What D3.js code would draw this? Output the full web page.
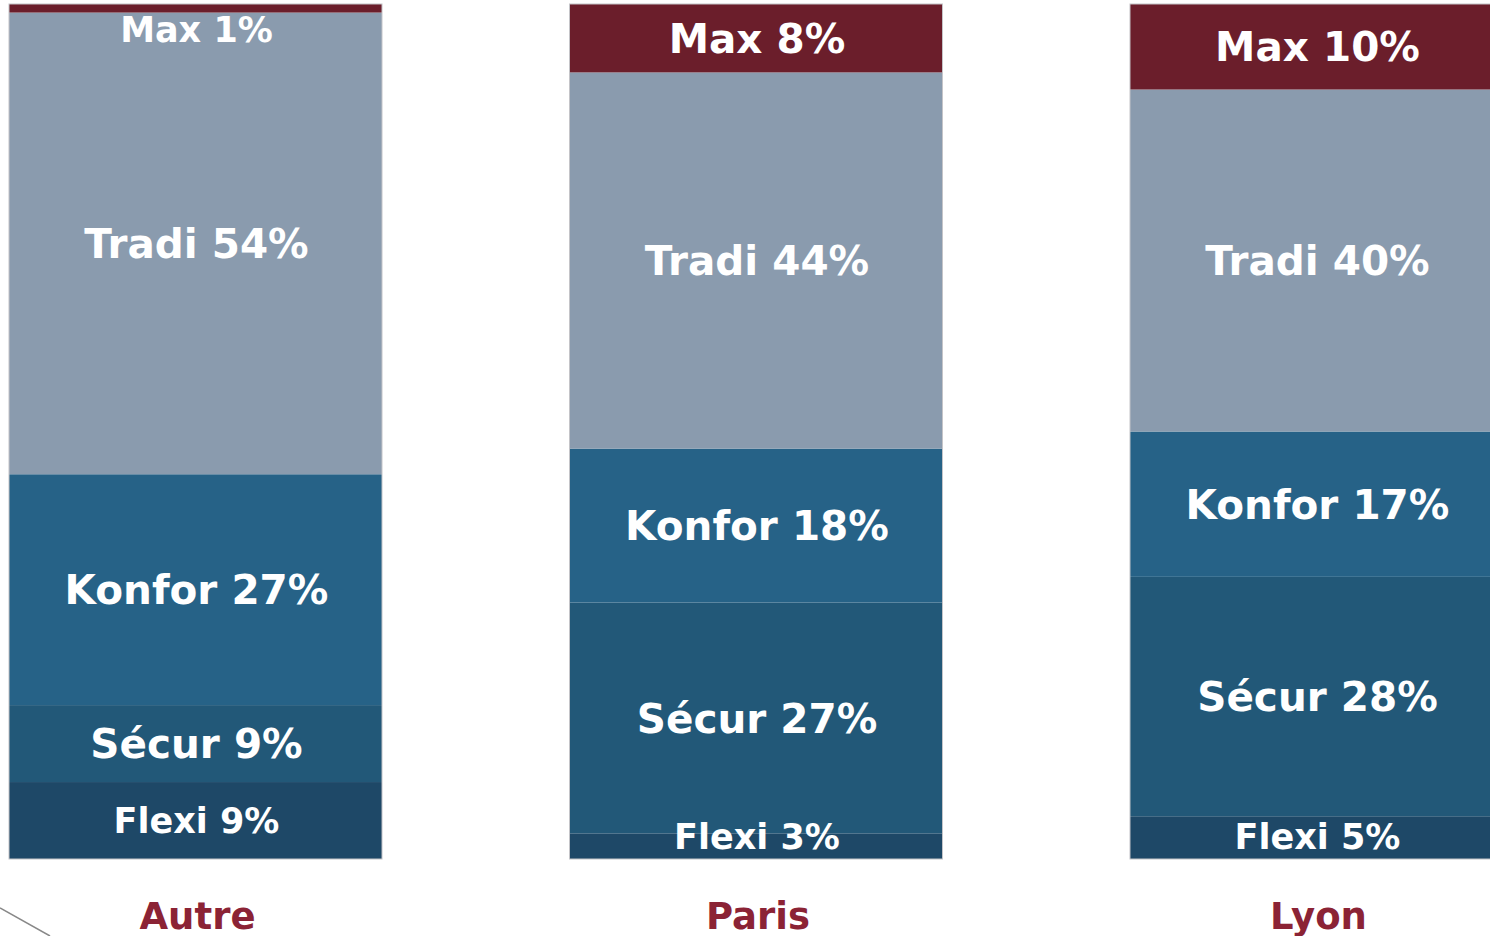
<!DOCTYPE html>
<html>
<head>
<meta charset="utf-8">
<script src="https://cdn.jsdelivr.net/npm/d3@7"></script>
<style>
  body { margin: 0; background: #fff; }
  svg { display: block; }
</style>
</head>
<body>
<svg id="chart"></svg>
<script>
// stacked shares (%) per city, bottom to top
var cities = ["Autre", "Paris", "Lyon"];
var series = ["Flexi", "Sécur", "Konfor", "Tradi", "Max"];
var flexi  = [9, 3, 5];
var secur  = [9, 27, 28];
var konfor = [27, 18, 17];
var tradi  = [54, 44, 40];
var max    = [1, 8, 10];

var colors = {
  "Flexi": "#1e4867",
  "Sécur": "#225878",
  "Konfor": "#266287",
  "Tradi": "#8a9bae",
  "Max": "#6b1e2b"
};

var width = 1490;
var height = 936;
var font = "'DejaVu Sans', Verdana, sans-serif";

var rows = cities.map(function(c, i) {
  return {city: c, "Flexi": flexi[i], "Sécur": secur[i], "Konfor": konfor[i], "Tradi": tradi[i], "Max": max[i]};
});

var stacked = d3.stack().keys(series)(rows);

var svg = d3.select("#chart")
  .attr("width", width)
  .attr("height", height);

var x = d3.scaleBand()
  .domain(cities)
  .range([9, 1503])
  .paddingInner(0.3345)
  .paddingOuter(0);

var y = d3.scaleLinear()
  .domain([0, 100])
  .range([859, 4]);

// little decorative stroke bottom left
svg.append("line")
  .attr("x1", 0).attr("y1", 908)
  .attr("x2", 50).attr("y2", 936)
  .attr("stroke", "#888")
  .attr("stroke-width", 1.5);

var layers = svg.selectAll("g.layer")
  .data(stacked)
  .enter()
  .append("g")
  .attr("class", "layer")
  .attr("fill", function(d) { return colors[d.key]; });

layers.selectAll("rect")
  .data(function(d) { return d; })
  .enter()
  .append("rect")
  .attr("x", function(d) { return x(d.data.city); })
  .attr("y", function(d) { return y(d[1]); })
  .attr("width", x.bandwidth())
  .attr("height", function(d) { return y(d[0]) - y(d[1]); });

// thin outline around each bar
svg.selectAll("rect.outline")
  .data(cities)
  .enter()
  .append("rect")
  .attr("class", "outline")
  .attr("x", function(d) { return x(d); })
  .attr("y", y(100))
  .attr("width", x.bandwidth())
  .attr("height", y(0) - y(100))
  .attr("fill", "none")
  .attr("stroke", "#c4c4c8")
  .attr("stroke-width", 1);

// segment labels, drawn on top of every rect
var labels = svg.append("g").attr("class", "labels");
stacked.forEach(function(layer) {
  labels.selectAll("text.l" + series.indexOf(layer.key))
    .data(layer)
    .enter()
    .append("text")
    .attr("class", "l" + series.indexOf(layer.key))
    .text(function(d) { return layer.key + " " + (d[1] - d[0]) + "%"; })
    .attr("x", function(d) { return x(d.data.city) + x.bandwidth() / 2 + 1; })
    .attr("y", function(d) {
      var mid = (y(d[0]) + y(d[1])) / 2;
      mid = Math.max(mid, y(100) + 25);
      mid = Math.min(mid, y(0) - 23);
      return mid;
    })
    .attr("dy", "0.36em")
    .attr("text-anchor", "middle")
    .attr("fill", "#fff")
    .attr("font-family", font)
    .attr("font-weight", "bold")
    .attr("font-size", function(d) {
      return (layer.key == "Flexi" || d[1] - d[0] < 3) ? 35 : 40.5;
    });
});

// city names
svg.selectAll("text.city")
  .data(cities)
  .enter()
  .append("text")
  .attr("class", "city")
  .text(function(d) { return d; })
  .attr("x", function(d) { return x(d) + x.bandwidth() / 2 + 2; })
  .attr("y", 929)
  .attr("text-anchor", "middle")
  .attr("fill", "#8b2335")
  .attr("font-family", font)
  .attr("font-weight", "bold")
  .attr("font-size", 37);
</script>
</body>
</html>
